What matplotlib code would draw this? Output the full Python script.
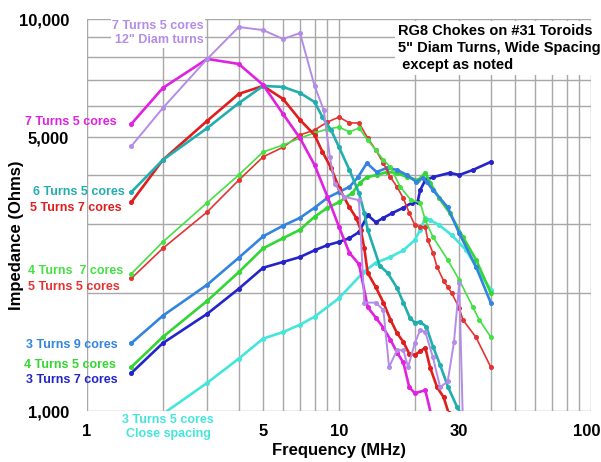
import numpy as np
import matplotlib
matplotlib.use("Agg")
import matplotlib.pyplot as plt
from matplotlib.transforms import ScaledTranslation

plt.rcParams['font.family'] = ['Liberation Sans', 'DejaVu Sans']
plt.rcParams['font.weight'] = 'bold'

# --- data (MHz, Ohms) ---
lav_f = [1.5, 2, 3, 4, 5, 6, 7, 8, 8.7, 9.2, 9.6, 10.5, 12, 12.6, 14, 15, 15.8, 17, 18, 18.8,
         20, 21, 22, 23.6, 25.2, 27, 28.6, 30, 31]
lav_z = [4740, 5930, 7910, 9540, 9370, 8890, 9210, 6750, 5860, 4450, 3800, 3520, 3450, 1890, 1890,
         1810, 1295, 1430, 1430, 1295, 1490, 1610, 1590, 1370, 1150, 1190, 1500, 2120, 950]

mag_f = [1.5, 2, 3, 4, 5, 6, 7, 8, 9, 10, 11, 12, 13, 14, 15, 16, 17, 18, 19, 20, 22, 23.2]
mag_z = [5400, 6670, 7910, 7680, 6790, 5720, 4970, 4240, 3520, 2950, 2530, 2370, 1840, 1730, 1630,
         1520, 1410, 1330, 1150, 1110, 1130, 980]

teal_f = [1.5, 2, 3, 4, 5, 6, 7, 8, 8.6, 9.3, 10, 11, 12, 12.6, 13, 14.5, 15.6, 17, 18, 19.1, 20,
          21, 22.2, 23.6, 25.2, 27.1, 29.4, 30.5]
teal_z = [3620, 4370, 5270, 6100, 6750, 6710, 6480, 6140, 5620, 5210, 4710, 4120, 3600, 3200, 2900,
          2350, 2250, 2060, 1890, 1730, 1680, 1690, 1640, 1460, 1310, 1150, 1025, 980]

red7_f = [1.5, 2, 3, 4, 5, 6, 7, 8, 8.6, 9.3, 10, 11, 11.7, 12.2, 12.6, 13, 14, 15, 16, 17, 18, 19,
          20, 21, 22, 23, 24.5, 26, 27.2]
red7_z = [3410, 4370, 5500, 6440, 6750, 6250, 5530, 5060, 4580, 4170, 3710, 3310, 3110, 2900, 2600,
          2250, 2070, 1890, 1710, 1580, 1500, 1400, 1390, 1420, 1450, 1290, 1150, 1085, 990]

red5_f = [1.5, 2, 3, 4, 5, 6, 7, 8, 9, 10, 11, 12, 13, 14, 15, 16, 17, 18, 19, 20, 21, 22, 22.5,
          23.6, 24.5, 26, 27, 28, 30, 31, 35, 40]
red5_z = [2180, 2600, 3220, 3880, 4450, 4710, 5060, 5210, 5460, 5620, 5430, 5430, 4970, 4630, 4290,
          3950, 3730, 3490, 3200, 2980, 2950, 2950, 2730, 2530, 2330, 2150, 2070, 2000, 1830, 1710,
          1540, 1295]

grn7_f = [1.5, 2, 3, 4, 5, 6, 7, 8, 9, 10, 11, 12, 13, 14, 15, 16, 17.5, 19.3, 21, 22, 23.6, 27,
          30, 34, 36, 40]
grn7_z = [2240, 2700, 3400, 4000, 4580, 4770, 4970, 5120, 5240, 5300, 5150, 5270, 4910, 4630, 4370,
          4190, 3730, 3450, 3400, 3070, 2780, 2430, 2160, 1840, 1710, 1545]

grn5_f = [1.5, 2, 3, 4, 5, 6, 7, 8, 9, 10, 11.3, 12.1, 12.9, 14.1, 15.5, 17, 18.6, 20.6, 22, 23,
          25, 27.5, 31, 35, 40]
grn5_z = [1295, 1545, 1910, 2260, 2600, 2760, 2900, 3130, 3300, 3410, 3600, 3820, 3950, 4000, 4070,
          4050, 3950, 3880, 4050, 3820, 3490, 3200, 2780, 2430, 2000]

blu9_f = [1.5, 2, 3, 4, 5, 6, 7, 8, 9, 10, 11, 11.9, 12.9, 14.1, 15.5, 17, 18.6, 20.3, 21.5, 22.3,
          23.6, 27, 30, 35, 40]
blu9_z = [1490, 1750, 2100, 2460, 2790, 2970, 3110, 3300, 3500, 3620, 3730, 3950, 4290, 4070, 4170,
          4120, 4000, 3840, 3930, 3840, 3660, 3310, 2840, 2330, 1890]

blu7_f = [1.5, 2, 3, 4, 5, 6, 7, 8, 9, 10, 11, 12, 13, 14, 15, 16.3, 18, 19.5, 20.5, 21, 22, 23.6,
          27.5, 30, 34, 40]
blu7_z = [1250, 1490, 1770, 2050, 2320, 2400, 2470, 2570, 2650, 2700, 2760, 2860, 3160, 3030, 3110,
          3200, 3300, 3400, 3410, 3660, 3880, 3950, 4050, 4000, 4120, 4320]

cyan_f = [1.9, 3, 4, 5, 6, 7, 8, 10, 12.5, 14, 16, 18, 20, 21, 22, 23, 25, 28, 32, 35, 40]
cyan_z = [960, 1180, 1360, 1530, 1590, 1660, 1740, 1940, 2260, 2390, 2470, 2570, 2730, 2900, 3110,
          3070, 2980, 2810, 2570, 2330, 2040]

# (f, z, colour, line width)
curves = [
    (cyan_f, cyan_z, '#44e6dc', 1.9),
    (blu7_f, blu7_z, '#2424c8', 1.9),
    (grn5_f, grn5_z, '#33d633', 1.9),
    (blu9_f, blu9_z, '#3384e0', 1.9),
    (red5_f, red5_z, '#e43333', 1.2),
    (grn7_f, grn7_z, '#44e044', 1.2),
    (red7_f, red7_z, '#e01e1e', 1.9),
    (teal_f, teal_z, '#22aeae', 1.9),
    (mag_f, mag_z, '#e022e0', 1.9),
    (lav_f, lav_z, '#b48ce8', 1.4),
]

W, H = 601, 462
fig = plt.figure(figsize=(W / 100, H / 100), dpi=100)
ax = fig.add_axes([87 / W, 1 - 411 / H, (591 - 87) / W, (411 - 19) / H])

for f, z, c, lw in curves:
    ax.plot(f, z, color=c, lw=lw, marker='o', ms=2.6, mec=c, mfc=c)

ax.set_xscale('log')
ax.set_yscale('log')
ax.set_xlim(1, 100)
ax.set_ylim(1000, 10000)

ax.set_xticks([1, 5, 10, 30, 100], labels=['1', '5', '10', '30', '100'])
ax.set_xticks([2, 3, 4, 6, 7, 8, 9, 20, 40, 50, 60, 70, 80, 90], minor=True)
ax.set_yticks([1000, 5000, 10000], labels=['1,000', '5,000', '10,000'])
ax.set_yticks([2000, 3000, 4000, 6000, 7000, 8000, 9000], minor=True)
ax.yaxis.set_minor_formatter(plt.NullFormatter())
ax.xaxis.set_minor_formatter(plt.NullFormatter())
ax.tick_params(which='both', length=0)
ax.tick_params(axis='x', labelsize=12, pad=9)
ax.tick_params(axis='y', labelsize=12, pad=13)
ax.grid(True, which='both', color='#a8a8a8', lw=1)
ax.set_axisbelow(True)
for s in ax.spines.values():
    s.set_visible(False)

# keep "100" inside the canvas
last = ax.get_xticklabels()[-1]
last.set_horizontalalignment('right')
last.set_transform(last.get_transform() + ScaledTranslation(9 / 100, 0, fig.dpi_scale_trans))

ax.set_xlabel('Frequency (MHz)', fontsize=12, fontweight='bold', labelpad=3)
fig.text(17 / W, 1 - 235 / H, 'Impedance (Ohms)', rotation=90, fontsize=12,
         fontweight='bold', ha='center', va='center')

# title box
fig.text(398 / W, 1 - 48 / H, 'RG8 Chokes on #31 Toroids\n5" Diam Turns, Wide Spacing\n except as noted',
         fontsize=10.5, fontweight='bold', ha='left', va='center', linespacing=1.3,
         bbox=dict(facecolor='white', edgecolor='none', pad=2))

# curve labels (text, colour, right edge px, centre y px)
labels = [
    ('7 Turns 5 cores', '#e022e0', 117, 122),
    ('6 Turns 5 cores', '#22aeae', 125, 192),
    ('5 Turns 7 cores', '#e01e1e', 122, 208),
    ('4 Turns  7 cores', '#44e044', 123, 271),
    ('5 Turns 5 cores', '#e43333', 120, 287),
    ('3 Turns 9 cores', '#3384e0', 118, 345),
    ('4 Turns 5 cores', '#33d633', 116, 365),
    ('3 Turns 7 cores', '#2424c8', 118, 380),
]
for t, c, xr, yc in labels:
    fig.text(xr / W, 1 - yc / H, t, color=c, fontsize=9, fontweight='bold',
             ha='right', va='center')

fig.text(204 / W, 1 - 33 / H, '7 Turns 5 cores\n12" Diam turns', color='#b48ce8', fontsize=9,
         fontweight='bold', ha='right', va='center', multialignment='right', linespacing=1.25,
         bbox=dict(facecolor='white', edgecolor='none', pad=1))
fig.text(168 / W, 1 - 427 / H, '3 Turns 5 cores\nClose spacing', color='#44e6dc', fontsize=9,
         fontweight='bold', ha='center', va='center', linespacing=1.25)

fig.savefig('out.png', dpi=100)
